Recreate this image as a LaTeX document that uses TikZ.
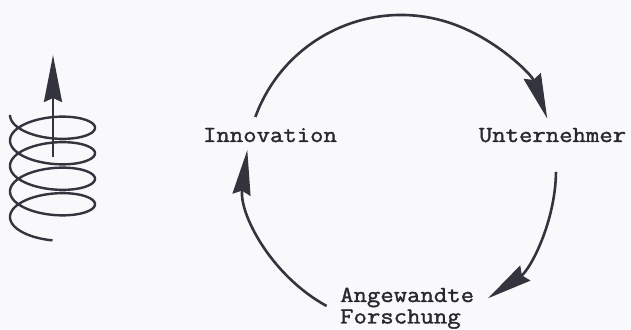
\documentclass[tikz,border=0pt]{standalone}
\usepackage{fontspec}
\newfontfamily\courlike{Latin Modern Mono}[FakeStretch=1.13,FakeBold=1.5]
\usetikzlibrary{arrows.meta}
\definecolor{bg}{RGB}{249,249,252}
\definecolor{ink}{RGB}{52,52,62}
\definecolor{txt}{RGB}{40,40,48}
\begin{document}
\begin{tikzpicture}[x=1pt,y=1pt,
 flow/.style={line width=2.6pt, draw=ink, -{Stealth[length=45pt,width=18pt,inset=4pt]}},
 lbl/.style={font=\courlike\fontsize{23}{21.5}\selectfont, text=txt, inner sep=0pt}]
\fill[bg] (0,0) rectangle (631,329);
\useasboundingbox (0,0) rectangle (631,329);
\coordinate (o) at (401,159);
\node[lbl, anchor=base] (inn) at (270,187) {Innovation};
\node[lbl, anchor=base] (unt) at (552.5,187) {Unternehmer};
\node[lbl, anchor=base west, align=left] (ang) at (340,5.5) {Angewandte\\Forschung};
\draw[flow] ([shift={(160:155)}]o) arc[start angle=160, end angle=19.4, radius=155];
\draw[flow] ([shift={(-0.7:155)}]o) arc[start angle=-0.7, end angle=-55.9, radius=155];
\draw[flow] ([shift={(241.3:155)}]o) arc[start angle=241.3, end angle=172.6, radius=155];
\draw[ink, line width=2.4pt] plot[domain=0:1530, samples=400, smooth, variable=\t] ({52.5-42.5*cos(\t)}, {214-17*sin(\t)-0.070833*\t});
\coordinate (ab) at (53,172);
\coordinate (at) at (53,274);
\draw[ink, line width=2.6pt, -{Stealth[length=47pt,width=18pt,inset=4pt]}] (ab) -- (at);
\end{tikzpicture}
\end{document}
